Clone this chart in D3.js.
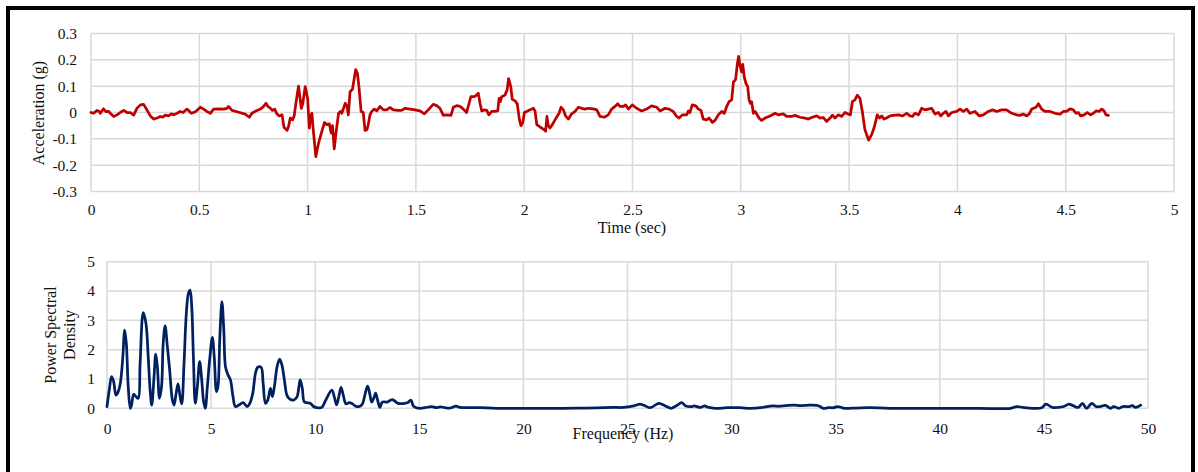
<!DOCTYPE html>
<html>
<head>
<meta charset="utf-8">
<script src="https://cdn.jsdelivr.net/npm/d3@7"></script>
<style>
  html, body { margin: 0; padding: 0; background: #fff; }
  svg { display: block; font-family: "Liberation Serif", "Times New Roman", serif; }
</style>
</head>
<body>
<svg id="chart" width="1198" height="472"></svg>
<script>
// ---- Acceleration record (time in s, acceleration in g) ----
const accTime = [
  0, .012, .028, .038, .043, .058, .069, .082, .089, .105, .120, .135, .151, .166, .182, .197,
  .212, .228, .243, .258, .274, .289, .305, .320, .331, .343, .358, .371, .382, .397, .412, .425,
  .443, .463, .482, .505, .520, .535, .551, .566, .589, .612, .628, .635, .651, .682, .712, .731,
  .743, .762, .782, .797, .808, .817, .828, .838, .848, .858, .869, .882, .891, .905, .912, .920,
  .931, .938, .946, .958, .971, .978, .989, 1.000, 1.008, 1.014, 1.020, 1.026, 1.038, 1.051, 1.066, 1.078,
  1.089, 1.100, 1.109, 1.115, 1.123, 1.131, 1.143, 1.151, 1.158, 1.174, 1.182, 1.188, 1.196, 1.207, 1.214, 1.222,
  1.230, 1.237, 1.247, 1.257, 1.265, 1.274, 1.280, 1.288, 1.296, 1.308, 1.319, 1.334, 1.350, 1.365, 1.380, 1.396,
  1.419, 1.434, 1.450, 1.473, 1.496, 1.519, 1.539, 1.557, 1.580, 1.596, 1.611, 1.627, 1.642, 1.662, 1.673, 1.688,
  1.704, 1.719, 1.734, 1.754, 1.770, 1.777, 1.788, 1.796, 1.804, 1.816, 1.827, 1.837, 1.850, 1.865, 1.878, 1.884,
  1.890, 1.896, 1.911, 1.921, 1.928, 1.938, 1.945, 1.958, 1.968, 1.978, 1.985, 1.993, 2.001, 2.011, 2.027, 2.042,
  2.050, 2.058, 2.073, 2.088, 2.099, 2.105, 2.111, 2.119, 2.130, 2.142, 2.153, 2.161, 2.170, 2.181, 2.191, 2.204,
  2.219, 2.235, 2.250, 2.265, 2.281, 2.296, 2.319, 2.335, 2.350, 2.370, 2.388, 2.404, 2.419, 2.432, 2.442, 2.458,
  2.468, 2.481, 2.499, 2.519, 2.542, 2.565, 2.588, 2.612, 2.627, 2.650, 2.669, 2.688, 2.704, 2.715, 2.730, 2.750,
  2.758, 2.765, 2.776, 2.792, 2.804, 2.816, 2.827, 2.842, 2.853, 2.862, 2.869, 2.881, 2.896, 2.912, 2.924, 2.935,
  2.946, 2.958, 2.966, 2.976, 2.984, 2.990, 2.996, 3.004, 3.009, 3.016, 3.024, 3.032, 3.038, 3.044, 3.050, 3.058,
  3.066, 3.073, 3.084, 3.096, 3.112, 3.135, 3.158, 3.173, 3.196, 3.212, 3.235, 3.250, 3.273, 3.296, 3.312, 3.327,
  3.350, 3.366, 3.381, 3.396, 3.412, 3.423, 3.435, 3.450, 3.466, 3.481, 3.493, 3.506, 3.515, 3.527, 3.538, 3.550,
  3.561, 3.573, 3.590, 3.604, 3.615, 3.630, 3.640, 3.650, 3.661, 3.673, 3.689, 3.704, 3.727, 3.747, 3.766, 3.781,
  3.793, 3.804, 3.820, 3.835, 3.850, 3.866, 3.881, 3.897, 3.912, 3.923, 3.935, 3.947, 3.958, 3.974, 3.997, 4.012,
  4.027, 4.043, 4.058, 4.081, 4.101, 4.120, 4.143, 4.163, 4.181, 4.204, 4.227, 4.251, 4.274, 4.289, 4.304, 4.320,
  4.332, 4.343, 4.363, 4.374, 4.389, 4.404, 4.428, 4.451, 4.474, 4.489, 4.504, 4.520, 4.535, 4.548, 4.558, 4.569,
  4.585, 4.600, 4.615, 4.628, 4.640, 4.655, 4.666, 4.677, 4.686, 4.697
];
const accValue = [
  0, -.003, .008, .004, -.003, .014, .003, .004, -.003, -.015, -.009, 0, .008, 0, 0, -.010,
  .016, .029, .031, .010, -.013, -.025, -.021, -.015, -.018, -.010, -.013, -.005, -.009, -.003, .004, 0,
  .013, -.003, .003, .020, .013, .004, -.003, .013, .014, .013, .016, .023, .008, .001, -.006, -.018,
  -.003, .006, .013, .023, .035, .023, .016, .008, .013, -.005, -.013, -.009, -.056, -.068, -.053, -.021,
  -.028, -.013, .035, .100, .016, .035, .098, .054, -.059, -.015, -.003, -.065, -.168, -.115, -.071, -.038,
  -.046, -.043, -.078, -.050, -.138, -.078, -.003, .004, -.003, .035, .023, -.009, .079, .088, .123, .163,
  .148, .098, .004, 0, -.068, -.065, -.046, -.009, .004, .013, .006, .023, .010, .010, .019, .010,
  .008, .008, .016, .013, .010, .006, -.005, .010, .031, .026, .016, -.011, -.009, -.011, .020, .026,
  .023, .013, 0, .060, .060, .064, .073, .035, .006, .010, .008, -.009, .004, .004, .006, .054,
  .041, .060, .066, .085, .129, .098, .050, .044, .033, -.028, -.050, -.040, 0, .004, .010, .016,
  .006, -.046, -.055, -.063, -.071, -.015, -.050, -.059, -.046, -.028, -.013, -.003, .020, .010, -.013, -.025,
  -.005, .004, .020, .016, .013, .016, .014, .010, -.015, -.018, -.009, .013, .023, .033, .023, .023,
  .029, .013, .029, .016, .006, .013, .025, .020, .006, .016, .013, .004, -.015, -.021, -.009, -.009,
  .006, 0, .029, .025, .013, .008, -.025, -.028, -.021, -.030, -.038, -.030, -.009, .004, -.003, .023,
  .041, .048, .116, .125, .185, .213, .179, .154, .183, .135, .110, .098, .048, .035, .041, -.003,
  .004, -.005, -.021, -.030, -.021, -.013, -.003, -.009, -.005, -.015, -.015, -.011, -.018, -.021, -.025, -.019,
  -.013, -.021, -.019, -.034, -.021, -.010, -.021, -.009, -.015, 0, -.005, -.009, .041, .048, .066, .054,
  .004, -.065, -.105, -.084, -.059, -.009, -.021, -.013, -.025, -.021, -.013, -.011, -.009, -.013, -.003, -.013,
  -.015, -.003, -.009, .016, .010, .013, .016, -.006, 0, -.013, -.003, .004, -.013, 0, .004, .013,
  .004, .013, -.003, .004, -.013, -.009, .004, .010, .004, .010, .010, -.003, -.009, -.011, -.006, -.013,
  -.005, .013, .020, .033, .013, .004, .004, -.003, -.006, .004, .004, .014, .010, -.003, 0, -.013,
  -.009, 0, -.009, -.003, .006, .004, .013, .006, -.009, -.011
];

// ---- Power spectral density (frequency in Hz) ----
const psdFreq = [
  0, .11, .22, .32, .43, .54, .64, .75, .85, .93, 1.02, 1.12, 1.18, 1.28, 1.39, 1.50,
  1.59, 1.74, 1.87, 1.98, 2.07, 2.15, 2.26, 2.34, 2.42, 2.52, 2.62, 2.70, 2.79, 2.90, 3.01, 3.14,
  3.22, 3.32, 3.41, 3.51, 3.59, 3.70, 3.81, 3.91, 3.99, 4.07, 4.15, 4.24, 4.34, 4.45, 4.55, 4.64,
  4.72, 4.82, 4.93, 5.06, 5.15, 5.26, 5.33, 5.42, 5.52, 5.61, 5.69, 5.81, 5.93, 6.04, 6.17, 6.33,
  6.54, 6.73, 6.86, 7.0, 7.13, 7.24, 7.40, 7.50, 7.61, 7.72, 7.85, 7.94, 8.04, 8.17, 8.29, 8.40,
  8.52, 8.64, 8.77, 8.96, 9.12, 9.22, 9.28, 9.38, 9.47, 9.60, 9.76, 9.92, 10.08, 10.32, 10.52, 10.8,
  10.92, 11.03, 11.13, 11.24, 11.35, 11.48, 11.63, 11.79, 11.95, 12.11, 12.27, 12.40, 12.52, 12.62, 12.71, 12.83,
  12.90, 12.98, 13.11, 13.22, 13.35, 13.46, 13.7, 13.98, 14.30, 14.45, 14.6, 14.71, 14.85, 15.05, 15.27, 15.59,
  15.83, 16.0, 16.23, 16.5, 16.76, 16.95, 17.43, 17.9, 18.7, 20, 21.9, 23.0, 24.3, 24.8, 25.3, 25.6,
  25.8, 26.1, 26.5, 26.8, 27.1, 27.4, 27.6, 27.8, 28.1, 28.2, 28.5, 28.7, 28.9, 29.2, 29.8, 30.4,
  30.9, 31.4, 31.7, 32.0, 32.3, 32.6, 33.0, 33.3, 33.6, 33.85, 34.1, 34.25, 34.4, 34.65, 34.9, 35.1,
  35.4, 36.0, 36.65, 37.6, 40, 41.9, 43.4, 43.7, 44.0, 44.5, 44.9, 45.1, 45.4, 45.7, 45.95, 46.2,
  46.4, 46.65, 46.85, 47.05, 47.3, 47.5, 47.7, 47.95, 48.2, 48.35, 48.6, 48.8, 49.1, 49.25, 49.4, 49.65
];
const psdValue = [
  .06, .63, 1.08, .91, .45, .57, .85, 1.65, 2.67, 2.2, .74, 0, .11, .48, .4, .34,
  1.53, 3.26, 2.9, 1.76, .63, .11, 1.08, 1.85, 1.42, .34, .74, 2.22, 2.81, 2.1, 1.31, .28,
  .11, .51, .83, .4, .15, 1.53, 3.24, 3.92, 4.03, 3.47, 1.76, .17, .74, 1.59, .97, .23,
  0, .74, 1.65, 2.42, 1.76, .57, .74, 2.44, 3.64, 2.67, 1.42, 1.14, .97, .45, .06, .11,
  .19, .06, .17, .51, 1.19, 1.4, 1.4, .85, .17, .28, .68, .4, .74, 1.42, 1.68, 1.48,
  .97, .45, .32, .28, .38, .74, .97, .68, .23, .19, .17, .06, .02, .03, .30, .62,
  .38, .12, .38, .71, .44, .15, .19, .15, .07, .06, .15, .5, .76, .5, .21, .38,
  .52, .33, .03, .21, .22, .21, .3, .17, .17, .2, .28, .08, .02, 0, .02, .06,
  .02, .05, .02, .01, .07, .03, .02, .02, 0, 0, 0, .01, .03, .03, .08, .14,
  .1, .02, .17, .09, 0, .11, .19, .08, .06, .08, .03, .08, .03, 0, .02, .02,
  0, .02, .06, .08, .07, .09, .11, .09, .1, .11, .1, .06, 0, .02, .02, .06,
  0, .01, .02, 0, 0, 0, 0, .06, .03, 0, .02, .14, .03, .03, .06, .14,
  .09, .03, .17, 0, .17, .06, .06, .1, 0, .06, 0, .06, .06, .09, .03, .11
];

// ---- Axis ticks ----
const accTicksX = [0, 0.5, 1, 1.5, 2, 2.5, 3, 3.5, 4, 4.5, 5];
const accTicksY = [-0.3, -0.2, -0.1, 0, 0.1, 0.2, 0.3];
const psdTicksX = [0, 5, 10, 15, 20, 25, 30, 35, 40, 45, 50];
const psdTicksY = [0, 1, 2, 3, 4, 5];

const svg = d3.select("#chart");
const gridColor = "#d9d9d9";
const textColor = "#111";

// outer frame
svg.append("rect")
  .attr("x", 8).attr("y", 8)
  .attr("width", 1185).attr("height", 480)
  .attr("fill", "none").attr("stroke", "#000").attr("stroke-width", 4);

function panel(opts) {
  const g = svg.append("g");
  const x = d3.scaleLinear().domain(opts.xDomain).range(opts.xRange);
  const y = d3.scaleLinear().domain(opts.yDomain).range(opts.yRange);

  // gridlines
  g.append("g").selectAll("line.v").data(opts.xTicks).join("line")
    .attr("x1", d => x(d)).attr("x2", d => x(d))
    .attr("y1", y.range()[0]).attr("y2", y.range()[1])
    .attr("stroke", gridColor).attr("stroke-width", 1.5);
  g.append("g").selectAll("line.h").data(opts.yTicks).join("line")
    .attr("x1", x.range()[0]).attr("x2", x.range()[1])
    .attr("y1", d => y(d)).attr("y2", d => y(d))
    .attr("stroke", gridColor).attr("stroke-width", 1.5);

  // axes (labels only)
  const ax = d3.axisBottom(x).tickValues(opts.xTicks).tickSize(0).tickPadding(0)
    .tickFormat(d => String(+d.toFixed(1)));
  const gx = g.append("g").attr("transform", `translate(0,${opts.xLabelY})`).call(ax);
  gx.select(".domain").remove();
  gx.selectAll("text").attr("font-size", opts.tickSize).attr("fill", textColor)
    .attr("font-family", "Liberation Serif").attr("dy", "0.71em");

  const ay = d3.axisLeft(y).tickValues(opts.yTicks).tickSize(0).tickPadding(0)
    .tickFormat(d => String(+d.toFixed(1)));
  const gy = g.append("g").attr("transform", `translate(${opts.yLabelX},0)`).call(ay);
  gy.select(".domain").remove();
  gy.selectAll("text").attr("font-size", opts.tickSize).attr("fill", textColor)
    .attr("font-family", "Liberation Serif");

  // series
  const pts = opts.xs.map((v, i) => [v, opts.ys[i]]);
  g.append("path").datum(pts)
    .attr("fill", "none").attr("stroke", opts.color).attr("stroke-width", 2.75)
    .attr("stroke-linejoin", "round").attr("stroke-linecap", "round")
    .attr("d", d3.line().x(d => x(d[0])).y(d => y(d[1])).curve(opts.curve));
  return g;
}

panel({
  xDomain: [0, 5], xRange: [91, 1174],
  yDomain: [-0.3, 0.3], yRange: [191.5, 33.5],
  xTicks: accTicksX, yTicks: accTicksY,
  xLabelY: 204, yLabelX: 77, tickSize: 15.5,
  xs: accTime, ys: accValue, color: "#c00000", curve: d3.curveLinear
});

panel({
  xDomain: [0, 50], xRange: [107, 1148],
  yDomain: [0, 5], yRange: [408.3, 261.7],
  xTicks: psdTicksX, yTicks: psdTicksY,
  xLabelY: 423, yLabelX: 95, tickSize: 15.5,
  xs: psdFreq, ys: psdValue, color: "#002060", curve: d3.curveCatmullRom.alpha(0.5)
});

// axis titles
svg.append("text").attr("x", 632).attr("y", 233).attr("text-anchor", "middle")
  .attr("font-size", 16).attr("fill", textColor).text("Time (sec)");
svg.append("text").attr("transform", "translate(44,113) rotate(-90)").attr("text-anchor", "middle")
  .attr("font-size", 16).attr("fill", textColor).text("Acceleration (g)");
svg.append("text").attr("x", 623).attr("y", 439).attr("text-anchor", "middle")
  .attr("font-size", 16).attr("fill", textColor).text("Frequency (Hz)");
const psdTitle = svg.append("text").attr("transform", "translate(56,335) rotate(-90)")
  .attr("text-anchor", "middle").attr("font-size", 16).attr("fill", textColor);
psdTitle.append("tspan").attr("x", 0).attr("dy", 0).text("Power Spectral");
psdTitle.append("tspan").attr("x", 0).attr("dy", 18.5).text("Density");
</script>
</body>
</html>
